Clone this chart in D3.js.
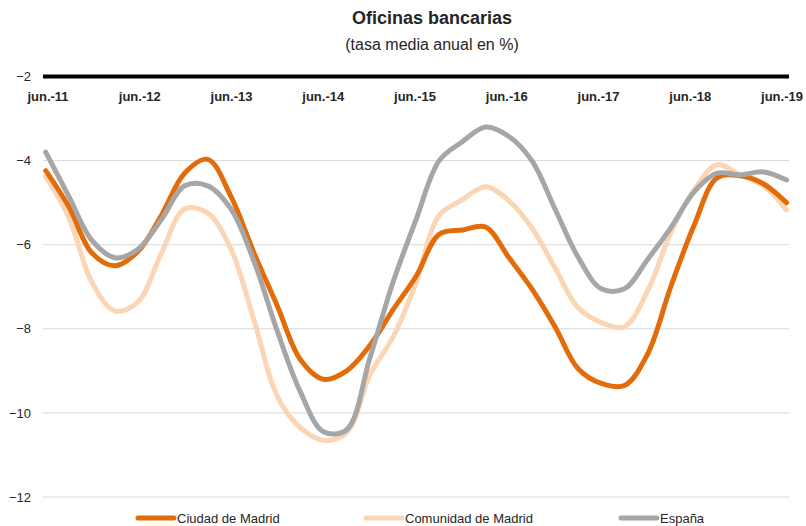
<!DOCTYPE html>
<meta charset="utf-8">
<style>
  body { margin: 0; background: #fff; }
  text { font-family: "Liberation Sans", Arial, sans-serif; }
</style>
<script src="https://d3js.org/d3.v7.min.js"></script>
<div id="my_dataviz"></div>
<script>
// quarterly points, jun.-11 .. jun.-19
const periods = d3.range(0, 33)
const tickLabels = ["jun.-11","jun.-12","jun.-13","jun.-14","jun.-15","jun.-16","jun.-17","jun.-18","jun.-19"]
const yTicks = [-12, -10, -8, -6, -4, -2]

const ciudad = [-4.24,-5.1,-6.2,-6.5,-6.15,-5.3,-4.3,-3.97,-4.85,-6.2,-7.45,-8.73,-9.2,-9.0,-8.4,-7.55,
  -6.75,-5.75,-5.65,-5.58,-6.3,-7.05,-7.95,-8.95,-9.3,-9.35,-8.6,-7.0,-5.55,-4.41,-4.36,-4.55,-5.0]
const comunidad = [-4.38,-5.35,-6.9,-7.58,-7.35,-6.2,-5.15,-5.25,-6.1,-7.8,-9.6,-10.35,-10.65,-10.47,-9.1,-8.2,
  -6.9,-5.3,-4.93,-4.62,-4.95,-5.6,-6.55,-7.5,-7.85,-7.95,-7.1,-5.72,-4.7,-4.1,-4.34,-4.6,-5.17]
const espana = [-3.8,-4.85,-5.9,-6.31,-6.1,-5.4,-4.6,-4.6,-5.15,-6.4,-8.05,-9.5,-10.45,-10.4,-8.7,-6.9,
  -5.4,-4.0,-3.55,-3.2,-3.42,-4.0,-5.15,-6.3,-7.05,-7.05,-6.35,-5.6,-4.75,-4.3,-4.34,-4.27,-4.46]

const seriesNames = ["Ciudad de Madrid", "Comunidad de Madrid", "España"]
const seriesColors = ["#e36c0a", "#fcd5b5", "#a6a6a6"]

var width = 806, height = 526

var svg = d3.select("#my_dataviz")
  .append("svg")
  .attr("width", width)
  .attr("height", height)

var x = d3.scaleLinear().domain([0, 32]).range([45.7, 786.5])
var y = d3.scaleLinear().domain([-12, -2]).range([497, 76.5])
// category labels sit on their own point scale (slightly inset, as in the original)
var xLab = d3.scalePoint().domain(tickLabels).range([47.5, 781.5])
var gridLeft = 43, gridRight = 789

// titles
svg.append("text")
  .attr("x", 432).attr("y", 24)
  .attr("text-anchor", "middle")
  .style("font-size", "18px").style("font-weight", "bold").style("fill", "#262626")
  .text("Oficinas bancarias")
svg.append("text")
  .attr("x", 432).attr("y", 50)
  .attr("text-anchor", "middle")
  .style("font-size", "16px").style("fill", "#262626")
  .text("(tasa media anual en %)")

// gridlines
svg.selectAll("grid")
  .data(yTicks.filter(d => d != -2))
  .enter()
  .append("line")
    .attr("x1", gridLeft).attr("x2", gridRight)
    .attr("y1", d => y(d)).attr("y2", d => y(d))
    .attr("stroke", "#d9d9d9").attr("stroke-width", 1)

// y axis labels
var yAxis = svg.append("g")
  .attr("transform", "translate(" + gridLeft + ",0)")
  .call(d3.axisLeft(y).tickValues(yTicks).tickSize(0).tickPadding(12).tickFormat(d3.format("d")))
yAxis.select(".domain").remove()
yAxis.selectAll("text").style("font-size", "13px").style("fill", "#262626")
  .style("font-family", "'Liberation Sans', Arial, sans-serif")

// thick top line at -2
svg.append("line")
  .attr("x1", gridLeft).attr("x2", gridRight)
  .attr("y1", y(-2)).attr("y2", y(-2))
  .attr("stroke", "#000").attr("stroke-width", 4)

// x axis labels
var xAxis = svg.append("g")
  .attr("transform", "translate(0," + y(-2) + ")")
  .call(d3.axisBottom(xLab).tickSize(0).tickPadding(15))
xAxis.select(".domain").remove()
xAxis.selectAll("text").style("font-size", "13px").style("font-weight", "bold").style("fill", "#262626")
  .style("font-family", "'Liberation Sans', Arial, sans-serif")

// lines
var line = d3.line()
  .x((d, i) => x(periods[i]))
  .y(d => y(d))
  .curve(d3.curveCatmullRom.alpha(0.5))

var allSeries = [ciudad, comunidad, espana]
var order = [1, 0, 2] // draw light one underneath
order.forEach(k => {
  svg.append("path")
    .datum(allSeries[k])
    .attr("d", line)
    .attr("fill", "none")
    .attr("stroke", seriesColors[k])
    .attr("stroke-width", 5)
    .attr("stroke-linecap", "round")
})

// legend
var legendX = [138, 366, 621]
seriesNames.forEach((name, i) => {
  var g = svg.append("g").attr("transform", "translate(" + legendX[i] + ",518)")
  g.append("line")
    .attr("x1", 0).attr("x2", 36).attr("y1", 0).attr("y2", 0)
    .attr("stroke", seriesColors[i]).attr("stroke-width", 5).attr("stroke-linecap", "round")
  g.append("text")
    .attr("x", 39).attr("y", 5)
    .style("font-size", "13px").style("fill", "#262626")
    .text(name)
})
</script>
